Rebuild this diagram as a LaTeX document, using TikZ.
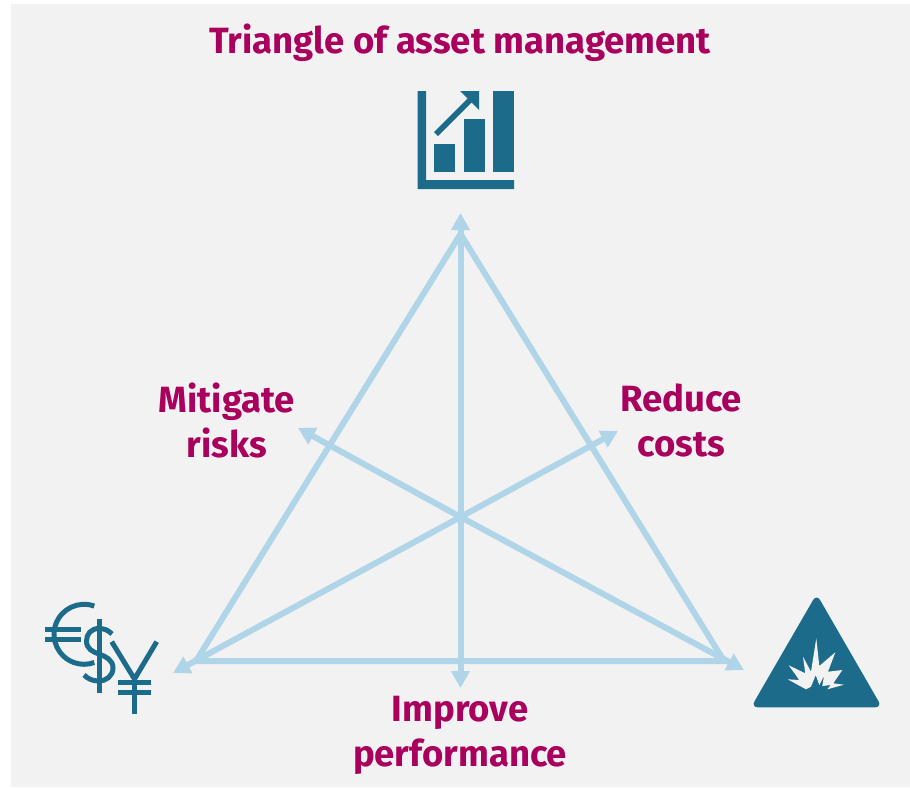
\documentclass[tikz,border=0pt]{standalone}
\usepackage{fontspec}
\setmainfont{Fira Sans}
\usetikzlibrary{arrows.meta}
\definecolor{bgc}{HTML}{F2F2F2}
\definecolor{lineblue}{HTML}{B0D4E8}
\definecolor{iconblue}{HTML}{1C6B8A}
\definecolor{plum}{HTML}{A9005E}
\tikzset{
  x=1pt,y=-1pt,
  tri/.style={draw=lineblue,line width=6pt,line join=miter},
  axis/.style={draw=lineblue,line width=6pt,-{Triangle[length=17pt,width=18pt]}},
  lab/.style={text=plum,font=\fontsize{36.5pt}{45pt}\selectfont\bfseries,align=center,inner sep=0pt},
  ico/.style={fill=iconblue,draw=none},
  stroke/.style={draw=iconblue,line width=5pt}
}
\begin{document}
\begin{tikzpicture}
\useasboundingbox (0,0) rectangle (910,788);
\fill[white] (0,0) rectangle (910,788);
\fill[bgc] (11,4) rectangle (910,787);
\coordinate (T) at (460.5,234);
\coordinate (L) at (196,661);
\coordinate (R) at (724,661);
\coordinate (C) at (460.5,517);
\coordinate (TA) at (460.5,213);
\coordinate (BA) at (460.5,688);
\coordinate (LA) at (173,673);
\coordinate (RA) at (744,670);
\coordinate (MA) at (298,428);
\coordinate (NA) at (618,431);
\draw[tri] (T) -- (L) -- (R) -- cycle;
\draw[axis] (C) -- (TA);
\draw[axis] (C) -- (BA);
\draw[axis] (C) -- (MA);
\draw[axis] (C) -- (NA);
\draw[axis] (C) -- (LA);
\draw[axis] (C) -- (RA);
\node[lab] (title) at (460,43) {Triangle of asset management};
\node[lab] (mit) at (227,420) {Mitigate\\risks};
\node[lab] (red) at (681,420) {Reduce\\costs};
\node[lab] (imp) at (460,735) {Improve\\performance};
% chart icon
\fill[ico] (417.5,91) -- (426,91) -- (426,180) -- (514,180) -- (514,189) -- (417.5,189) -- cycle;
\fill[ico] (434,144) rectangle (455,172);
\fill[ico] (464,119) rectangle (485,172);
\fill[ico] (493,91) rectangle (514,172);
\fill[ico] (460,91) -- (479,91) -- (479,110) -- (471.5,102.5) -- (438,136) -- (434,132) -- (467.5,98.5) -- cycle;
% currency icon: euro
\draw[stroke] (94.3,606.1) arc[start angle=-70,end angle=-290,radius=30];
\draw[stroke] (45,629) -- (81,629);
\draw[stroke] (45,639) -- (81,639);
% dollar
\draw[stroke] (99,619.3) -- (99,692.7);
\draw[stroke] (112,634) .. controls (108,630) and (104,628.5) .. (99,628.5) .. controls (91,628.5) and (86.5,634) .. (86.5,641) .. controls (86.5,649) and (93,652) .. (99,654) .. controls (106,656.5) and (113,660) .. (113,668) .. controls (113,676) and (106,681) .. (99,681) .. controls (93,681) and (88,679) .. (84,675);
% yen
\draw[stroke,line join=round] (111.7,641.7) -- (134.5,679) -- (156.7,641.7);
\draw[stroke] (134.5,679) -- (134.5,713.5);
\draw[stroke] (117.7,682.5) -- (150.7,682.5);
\draw[stroke] (117.7,692.5) -- (150.7,692.5);
% warning icon
\fill[ico,rounded corners=7pt] (816.6,594) -- (882,707.3) -- (751,707.3) -- cycle;
\fill[bgc] (816.3,638.3) -- (819.3,666) -- (835.3,652.3) -- (828,671.7) -- (842.3,670) -- (833.3,683.3) -- (844,684.7) -- (827.3,689.3) -- (830.7,685) -- (822.3,686) -- (824,676) -- (819.3,685) -- (815.7,675) -- (811,686.7) -- (806,689.3) -- (787.7,679.3) -- (799.3,680) -- (788.7,665.3) -- (805.3,673.3) -- (803,656.7) -- (811,671.7) -- cycle;
\end{tikzpicture}
\end{document}
